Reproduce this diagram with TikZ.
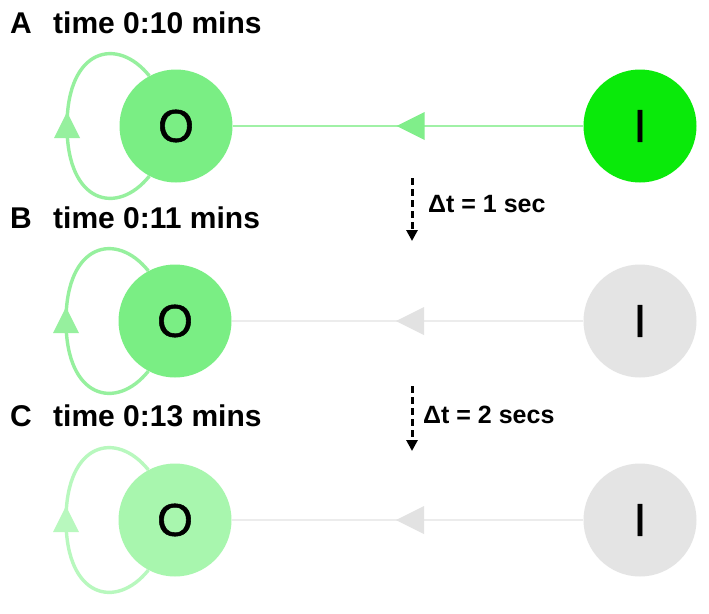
\documentclass[tikz,border=0pt]{standalone}
\usepackage{fontspec}
\setmainfont{Liberation Sans}
\newfontfamily\neufont{Liberation Sans}[FakeBold=1.2]
\usetikzlibrary{calc,arrows.meta,decorations.markings}
\definecolor{oGreen}{RGB}{122,238,132}
\definecolor{oFade}{RGB}{168,246,174}
\definecolor{iGreen}{RGB}{10,234,10}
\definecolor{loopA}{RGB}{150,240,158}
\definecolor{loopC}{RGB}{184,248,190}
\definecolor{lineA}{RGB}{160,241,166}
\definecolor{headA}{RGB}{128,238,138}
\definecolor{gCirc}{RGB}{228,228,228}
\definecolor{gLine}{RGB}{236,236,236}
\definecolor{gHead}{RGB}{226,226,226}
\tikzset{
  neuron/.style={circle, minimum size=113pt, inner sep=0pt, font=\neufont\fontsize{46}{50}\selectfont},
  lbl/.style={anchor=base west, inner sep=0pt, font=\bfseries\fontsize{30}{34}\selectfont},
  dlbl/.style={anchor=base west, inner sep=0pt, font=\bfseries\fontsize{25}{29}\selectfont},
  darrow/.style={line width=3pt, dash pattern=on 7pt off 4pt, -{Triangle[length=11pt,width=11pt]}},
  loopline/.style={line width=3.4pt},
  conn/.style={line width=2.4pt, postaction={decorate}, decoration={markings, mark=at position 0.5 with {\fill[#1] (11.5,0) -- (-16.5,14) -- (-16.5,-14) -- cycle;}}}
}
\newcommand{\selfloop}[3]{% node, line color, head color
  \coordinate (#1L) at ($(#1)+(-109,0)$);
  \draw[loopline, #2] (#1.118) .. controls +(-32,-40) and +(0,-78) .. (#1L)
        .. controls +(0,78) and +(-32,40) .. (#1.242);
  \fill[#3] ($(#1L)+(0,-14)$) -- ($(#1L)+(-13,12)$) -- ($(#1L)+(13,12)$) -- cycle;
}
\begin{document}
\begin{tikzpicture}[x=1pt, y=-1pt]
\useasboundingbox (0,0) rectangle (709,613);
\fill[white] (0,0) rectangle (709,613);

% labels
\node[lbl] (labA) at (10,33) {A};
\node[lbl] (timeA) at (53,33) {time 0:10 mins};
\node[lbl] (labB) at (10,228) {B};
\node[lbl] (timeB) at (53,228) {time 0:11 mins};
\node[lbl] (labC) at (10,426) {C};
\node[lbl] (timeC) at (53,426) {time 0:13 mins};

% row A
\node[neuron, fill=oGreen] (OA) at (176,126) {O};
\node[neuron, fill=iGreen] (IA) at (640,126) {I};
\draw[conn=headA, lineA] (IA) -- (OA);
\selfloop{OA}{loopA}{loopA}

% row B
\node[neuron, fill=oGreen] (OB) at (175,321) {O};
\node[neuron, fill=gCirc] (IB) at (640,321) {I};
\draw[conn=gHead, gLine] (IB) -- (OB);
\selfloop{OB}{loopA}{loopA}

% row C
\node[neuron, fill=oFade] (OC) at (175,520) {O};
\node[neuron, fill=gCirc] (IC) at (640,520) {I};
\draw[conn=gHead, gLine] (IC) -- (OC);
\selfloop{OC}{loopC}{loopC}

% time steps
\coordinate (d1s) at (412,178);
\coordinate (d1e) at (412,241);
\draw[darrow] (d1s) -- (d1e);
\node[dlbl] (dt1) at (428,212) {Δt = 1 sec};
\coordinate (d2s) at (412,386);
\coordinate (d2e) at (412,451);
\draw[darrow] (d2s) -- (d2e);
\node[dlbl] (dt2) at (423,423) {Δt = 2 secs};
\end{tikzpicture}
\end{document}
